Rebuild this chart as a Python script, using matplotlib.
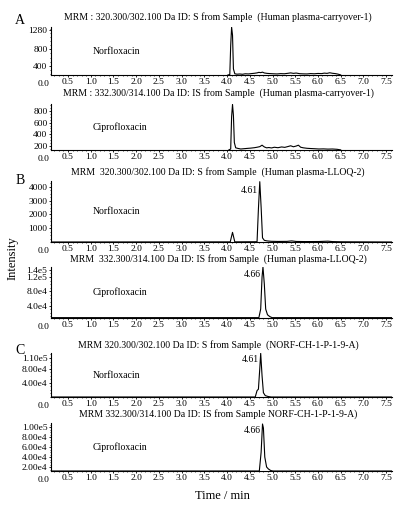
import matplotlib
matplotlib.use("Agg")
import matplotlib.pyplot as plt
from matplotlib.ticker import MultipleLocator, AutoMinorLocator

plt.rcParams['font.family'] = ['Liberation Serif', 'DejaVu Serif']

W, H = 397, 505

# ---- data (time in min, intensity in cps) ----
a1_t = [4.02, 4.06, 4.08, 4.10, 4.12, 4.14, 4.17, 4.22, 4.28, 4.34, 4.40, 4.47, 4.54, 4.60,
        4.66, 4.70, 4.74, 4.78, 4.82, 4.88, 4.94, 5.02, 5.10, 5.18, 5.26, 5.34, 5.40, 5.46,
        5.52, 5.60, 5.68, 5.76, 5.84, 5.92, 6.00, 6.08, 6.14, 6.20, 6.26, 6.32, 6.38, 6.44, 6.50]
a1_y = [172, 180, 900, 1345, 1150, 320, 200, 190, 195, 188, 200, 196, 205, 212,
        222, 235, 228, 240, 220, 210, 205, 200, 196, 204, 200, 212, 222, 210,
        218, 202, 198, 196, 205, 200, 208, 204, 216, 210, 225, 212, 205, 192, 172]

a2_t = [4.04, 4.08, 4.10, 4.12, 4.14, 4.16, 4.19, 4.24, 4.30, 4.37, 4.44, 4.52, 4.60, 4.66,
        4.72, 4.77, 4.82, 4.87, 4.92, 4.98, 5.04, 5.12, 5.20, 5.27, 5.34, 5.40, 5.46, 5.52,
        5.57, 5.62, 5.68, 5.76, 5.84, 5.92, 6.02, 6.12, 6.22, 6.32, 6.42, 6.50]
a2_y = [135, 150, 700, 910, 720, 260, 170, 160, 150, 155, 160, 165, 172, 180,
        190, 215, 185, 170, 175, 168, 180, 172, 185, 178, 192, 205, 188, 200,
        215, 180, 170, 162, 158, 155, 150, 152, 148, 150, 145, 135]

b1_t = [0.13, 4.07, 4.12, 4.17, 4.66, 4.69, 4.72, 4.75, 4.78, 4.82, 4.88, 4.97, 5.12,
        5.32, 5.42, 5.52, 5.72, 6.02, 6.22, 6.32, 6.52, 7.63]
b1_y = [0, 10, 700, 10, 20, 2400, 4380, 2500, 300, 120, 80, 50, 40,
        45, 80, 40, 30, 35, 60, 30, 15, 0]

b2_t = [0.13, 4.70, 4.74, 4.77, 4.79, 4.82, 4.85, 4.89, 4.94, 4.99, 7.63]
b2_y = [6000, 6000, 30000, 120000, 148000, 100000, 30000, 14000, 9000, 6000, 6000]

c1_t = [0.13, 4.62, 4.66, 4.69, 4.72, 4.74, 4.77, 4.80, 4.84, 4.90, 4.97, 7.63]
c1_y = [0, 0, 18000, 22000, 80000, 123000, 60000, 12000, 4000, 1500, 0, 0]

c2_t = [0.13, 4.71, 4.75, 4.78, 4.80, 4.83, 4.87, 4.91, 4.96, 5.01, 7.63]
c2_y = [12000, 12000, 50000, 106000, 98000, 40000, 20000, 16000, 13000, 12000, 12000]

x_ticks = [0.5, 1.0, 1.5, 2.0, 2.5, 3.0, 3.5, 4.0, 4.5, 5.0, 5.5, 6.0, 6.5, 7.0, 7.5]

panels = [
    # title, compound, t, y, ylim, yticks, ytick labels, rt label, title y, top, bottom (pixels)
    ("MRM : 320.300/302.100 Da ID: S from Sample  (Human plasma-carryover-1)", "Norfloxacin",
     a1_t, a1_y, (170, 1350), [400, 800, 1280], ["400", "800", "1280"], None, 17, 27, 75),
    ("MRM : 332.300/314.100 Da ID: IS from Sample  (Human plasma-carryover-1)", "Ciprofloxacin",
     a2_t, a2_y, (133, 917), [200, 400, 600, 800], ["200", "400", "600", "800"], None, 93, 104, 150),
    ("MRM  320.300/302.100 Da ID: S from Sample  (Human plasma-LLOQ-2)", "Norfloxacin",
     b1_t, b1_y, (0, 4430), [1000, 2000, 3000, 4000], ["1000", "2000", "3000", "4000"], "4.61",
     172, 181, 242),
    ("MRM  332.300/314.100 Da ID: IS from Sample  (Human plasma-LLOQ-2)", "Ciprofloxacin",
     b2_t, b2_y, (5000, 148000), [40000, 80000, 120000, 140000], ["4.0e4", "8.0e4", "1.2e5", "1.4e5"],
     "4.66", 259, 267, 318),
    ("MRM 320.300/302.100 Da ID: S from Sample  (NORF-CH-1-P-1-9-A)", "Norfloxacin",
     c1_t, c1_y, (0, 124000), [40000, 80000, 110000], ["4.00e4", "8.00e4", "1.10e5"], "4.61",
     345, 353, 397),
    ("MRM 332.300/314.100 Da ID: IS from Sample NORF-CH-1-P-1-9-A)", "Ciprofloxacin",
     c2_t, c2_y, (12000, 108000), [20000, 40000, 60000, 80000, 100000],
     ["2.00e4", "4.00e4", "6.00e4", "8.00e4", "1.00e5"], "4.66", 414, 423, 471),
]

fig = plt.figure(figsize=(W / 100, H / 100), dpi=100)

left_px, right_px = 51, 392
for title, comp, t, y, ylim, yt, ytl, rt, title_px, top_px, bot_px in panels:
    ax = fig.add_axes([left_px / W, 1 - bot_px / H, (right_px - left_px) / W, (bot_px - top_px) / H])
    ax.plot(t, y, color="black", lw=0.8)
    ax.set_xlim(0.125, 7.63)
    ax.set_ylim(*ylim)
    ax.set_xticks(x_ticks)
    ax.set_xticklabels([f"{v:.1f}" for v in x_ticks])
    ax.xaxis.set_minor_locator(MultipleLocator(0.1))
    ax.set_yticks(yt)
    ax.set_yticklabels(ytl)
    ax.yaxis.set_minor_locator(AutoMinorLocator(4))
    for s in ("top", "right"):
        ax.spines[s].set_visible(False)
    for s in ("left", "bottom"):
        ax.spines[s].set_linewidth(0.8)
    ax.tick_params(which="major", length=1.5, width=0.6, labelsize=6.8, pad=1)
    ax.tick_params(which="minor", length=1.0, width=0.5)
    ax.annotate("0.0", xy=(0.0, 0), xycoords=("data", "axes fraction"), xytext=(-1, -3.5),
                textcoords="offset points", ha="center", va="top", fontsize=6.8,
                annotation_clip=False)
    ax.text(0.123, 0.5, comp, transform=ax.transAxes, fontsize=7, va="center")
    if rt is not None:
        pk = t[y.index(max(y))]
        ax.text(pk - 0.04, 0.85, rt, transform=ax.get_xaxis_transform(), ha="right",
                va="center", fontsize=7)
    fig.text(218 / W, 1 - title_px / H, title, ha="center", va="center", fontsize=7)

fig.text(20 / W, 1 - 21 / H, "A", fontsize=10, ha="center", va="center")
fig.text(20 / W, 1 - 180 / H, "B", fontsize=10, ha="center", va="center")
fig.text(20 / W, 1 - 350 / H, "C", fontsize=10, ha="center", va="center")
fig.text(13 / W, 1 - 258 / H, "Intensity", rotation=90, fontsize=9, ha="center", va="center")
fig.text(222 / W, 1 - 496 / H, "Time / min", fontsize=9, ha="center", va="center")

fig.savefig("out.png", dpi=100)
